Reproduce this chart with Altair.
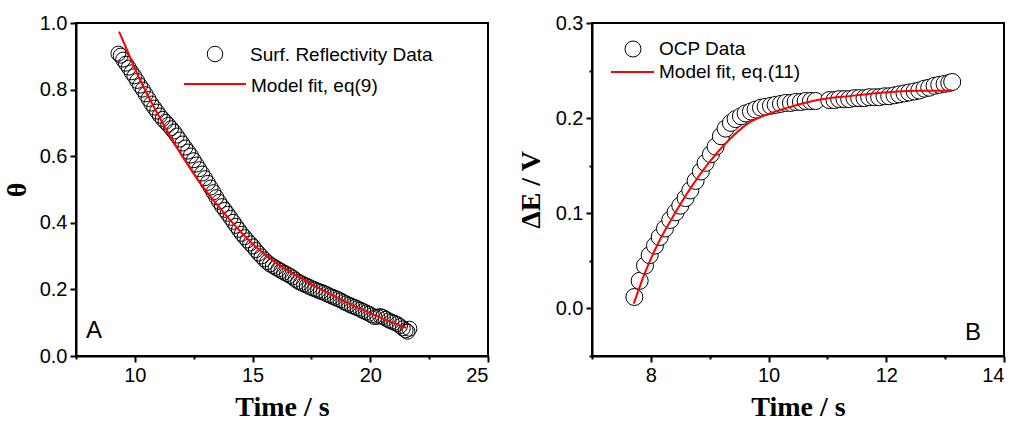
import altair as alt
import pandas as pd

# ---------------- Panel A : surface reflectivity ----------------
refl_t = [9.30, 9.40, 9.50, 9.62, 9.74, 9.86, 9.98, 10.10, 10.22, 10.34, 10.46, 10.58,
          10.70, 10.82, 10.94, 11.06, 11.18, 11.30, 11.42, 11.54, 11.66, 11.78, 11.90,
          12.02, 12.14, 12.26, 12.38, 12.50, 12.62, 12.74, 12.86, 12.98, 13.10, 13.22,
          13.34, 13.46, 13.58, 13.70, 13.82, 13.94, 14.06, 14.18, 14.30, 14.42, 14.54,
          14.66, 14.78, 14.90, 15.02, 15.14, 15.26, 15.38, 15.50, 15.62, 15.74, 15.86,
          15.98, 16.10, 16.22, 16.34, 16.46, 16.58, 16.70, 16.82, 16.94, 17.06, 17.18,
          17.30, 17.42, 17.54, 17.66, 17.78, 17.90, 18.02, 18.14, 18.26, 18.38, 18.50,
          18.62, 18.74, 18.86, 18.98, 19.10, 19.22, 19.34, 19.46, 19.58, 19.70, 19.82,
          19.94, 20.06, 20.18, 20.30, 20.42, 20.54, 20.66, 20.78, 20.90, 21.02, 21.14,
          21.26, 21.38, 21.50, 21.58, 21.66]
refl_theta = [0.908, 0.902, 0.890, 0.878, 0.866, 0.852, 0.840, 0.826, 0.812, 0.800, 0.786, 0.772,
              0.758, 0.746, 0.734, 0.722, 0.712, 0.703, 0.694, 0.684, 0.674, 0.662, 0.650,
              0.638, 0.626, 0.614, 0.602, 0.588, 0.575, 0.561, 0.548, 0.534, 0.520, 0.506,
              0.492, 0.477, 0.463, 0.450, 0.439, 0.427, 0.415, 0.403, 0.391, 0.379, 0.367,
              0.357, 0.347, 0.338, 0.329, 0.318, 0.308, 0.299, 0.290, 0.282, 0.275, 0.270,
              0.265, 0.260, 0.255, 0.250, 0.246, 0.241, 0.236, 0.229, 0.223, 0.219, 0.215,
              0.211, 0.207, 0.203, 0.200, 0.196, 0.193, 0.190, 0.186, 0.182, 0.178, 0.175,
              0.171, 0.167, 0.162, 0.158, 0.154, 0.150, 0.147, 0.143, 0.139, 0.135, 0.131,
              0.127, 0.122, 0.117, 0.118, 0.120, 0.117, 0.112, 0.107, 0.103, 0.100, 0.096,
              0.090, 0.083, 0.077, 0.073, 0.082]

fitA_t = [9.33, 9.54, 10.11, 10.82, 11.46, 12.10, 12.80, 13.52, 14.44, 15.15, 15.85,
          16.55, 17.27, 17.98, 18.69, 19.40, 20.11, 20.82, 21.53]
fitA_theta = [0.974, 0.940, 0.846, 0.746, 0.665, 0.590, 0.517, 0.452, 0.377, 0.327, 0.287,
              0.254, 0.225, 0.197, 0.171, 0.147, 0.125, 0.104, 0.085]

# ---------------- Panel B : OCP ----------------
ocp_t = [7.72, 7.81, 7.90, 7.98, 8.07, 8.15, 8.24, 8.33, 8.42, 8.50, 8.59, 8.67, 8.76,
         8.85, 8.93, 9.02, 9.10, 9.19, 9.27, 9.36, 9.44, 9.53, 9.61, 9.70, 9.78, 9.87,
         9.95, 10.04, 10.12, 10.21, 10.29, 10.38, 10.46, 10.55, 10.63, 10.72, 10.80,
         11.03, 11.12, 11.20, 11.29, 11.37, 11.46, 11.54, 11.63, 11.71, 11.80, 11.88,
         11.97, 12.05, 12.14, 12.22, 12.31, 12.39, 12.48, 12.56, 12.65, 12.73, 12.82,
         12.90, 12.99, 13.07, 13.12]
ocp_dE = [0.012, 0.029, 0.045, 0.056, 0.066, 0.075, 0.084, 0.093, 0.101, 0.108, 0.116,
          0.124, 0.134, 0.144, 0.153, 0.162, 0.170, 0.181, 0.189, 0.195, 0.199, 0.202,
          0.205, 0.207, 0.209, 0.211, 0.212, 0.213, 0.214, 0.215, 0.216, 0.216, 0.217,
          0.217, 0.218, 0.218, 0.218, 0.219, 0.219, 0.220, 0.220, 0.220, 0.221, 0.221,
          0.221, 0.222, 0.222, 0.222, 0.223, 0.223, 0.224, 0.225, 0.226, 0.227, 0.228,
          0.229, 0.231, 0.232, 0.234, 0.235, 0.236, 0.237, 0.238]

fitB_t = [7.71, 7.89, 8.12, 8.40, 8.68, 8.97, 9.31, 9.64, 9.98, 10.38, 10.83, 11.40,
          11.96, 12.53, 13.12]
fitB_dE = [0.005, 0.036, 0.068, 0.099, 0.127, 0.152, 0.176, 0.194, 0.204, 0.212, 0.219,
           0.2234, 0.227, 0.2287, 0.229]

W, H = 412, 333
SANS = "Liberation Sans"
SERIF = "Liberation Serif"
one = pd.DataFrame({"k": [0]})

dfA = pd.DataFrame({"t": refl_t, "v": refl_theta})
dfAf = pd.DataFrame({"t": fitA_t, "v": fitA_theta})
dfB = pd.DataFrame({"t": ocp_t, "v": ocp_dE})
dfBf = pd.DataFrame({"t": fitB_t, "v": fitB_dE})


def axis(values, major_test, fmt, title, title_pad):
    return alt.Axis(
        values=values,
        labelExpr=f"({major_test}) ? format(datum.value, '{fmt}') : ''",
        tickSize={"condition": {"test": major_test, "value": 6}, "value": 3},
        title=title, titlePadding=title_pad, grid=False,
    )


# Panel A
xA = alt.X("t:Q", scale=alt.Scale(domain=[7.5, 25], nice=False, zero=False),
           axis=axis([7.5, 10, 12.5, 15, 17.5, 20, 22.5, 25], "datum.value % 5 == 0", "d",
                     "Time / s", 8))
yA = alt.Y("v:Q", scale=alt.Scale(domain=[0, 1.0], nice=False),
           axis=axis([0, 0.1, 0.2, 0.3, 0.4, 0.5, 0.6, 0.7, 0.8, 0.9, 1.0],
                     "round(datum.value*10) % 2 == 0", ".1f", "θ", 8))

ptsA = alt.Chart(dfA).mark_point(shape="circle", size=225, filled=False, stroke="black",
                                 strokeWidth=1, opacity=1).encode(x=xA, y=yA)
lineA = alt.Chart(dfAf).mark_line(color="red", strokeWidth=2, interpolate="monotone").encode(x="t:Q", y="v:Q")
legA_c = alt.Chart(one).mark_point(shape="circle", size=240, filled=False, stroke="black",
                                   strokeWidth=1, opacity=1).encode(x=alt.value(139), y=alt.value(31))
legA_t1 = alt.Chart(one).mark_text(text="Surf. Reflectivity Data", align="left", baseline="middle",
                                   font=SANS, fontSize=19, color="black").encode(x=alt.value(174), y=alt.value(32))
legA_r = alt.Chart(one).mark_rule(color="red", strokeWidth=2).encode(x=alt.value(108), x2=alt.value(170), y=alt.value(61))
legA_t2 = alt.Chart(one).mark_text(text="Model fit, eq(9)", align="left", baseline="middle",
                                   font=SANS, fontSize=19, color="black").encode(x=alt.value(175), y=alt.value(63))
letA = alt.Chart(one).mark_text(text="A", align="left", baseline="middle", font=SANS,
                                fontSize=24, color="black").encode(x=alt.value(10), y=alt.value(308))
panelA = alt.layer(ptsA, lineA, legA_c, legA_t1, legA_r, legA_t2, letA).properties(width=W, height=H)

# Panel B
xB = alt.X("t:Q", scale=alt.Scale(domain=[7, 14], nice=False, zero=False),
           axis=axis([7, 8, 9, 10, 11, 12, 13, 14], "datum.value % 2 == 0", "d", "Time / s", 8))
yB = alt.Y("v:Q", scale=alt.Scale(domain=[-0.05, 0.3], nice=False, zero=False),
           axis=axis([-0.05, 0, 0.05, 0.1, 0.15, 0.2, 0.25, 0.3],
                     "round(datum.value*100) % 10 == 0", ".1f", "ΔE / V", 10))

ptsB = alt.Chart(dfB).mark_point(shape="circle", size=290, filled=True, fill="white", fillOpacity=1,
                                 stroke="black", strokeWidth=1, opacity=1).encode(x=xB, y=yB)
lineB = alt.Chart(dfBf).mark_line(color="red", strokeWidth=2, interpolate="monotone").encode(x="t:Q", y="v:Q")
legB_c = alt.Chart(one).mark_point(shape="circle", size=256, filled=False, stroke="black",
                                   strokeWidth=1, opacity=1).encode(x=alt.value(41), y=alt.value(26))
legB_t1 = alt.Chart(one).mark_text(text="OCP Data", align="left", baseline="middle",
                                   font=SANS, fontSize=19, color="black").encode(x=alt.value(67), y=alt.value(26))
legB_r = alt.Chart(one).mark_rule(color="red", strokeWidth=2).encode(x=alt.value(19), x2=alt.value(62), y=alt.value(49))
legB_t2 = alt.Chart(one).mark_text(text="Model fit, eq.(11)", align="left", baseline="middle",
                                   font=SANS, fontSize=19, color="black").encode(x=alt.value(67), y=alt.value(49))
letB = alt.Chart(one).mark_text(text="B", align="left", baseline="middle", font=SANS,
                                fontSize=24, color="black").encode(x=alt.value(373), y=alt.value(310))
panelB = alt.layer(ptsB, lineB, legB_c, legB_t1, legB_r, legB_t2, letB).properties(width=W, height=H)

chart = alt.hconcat(panelA, panelB, spacing=26).properties(
    padding={"left": 2, "top": 12, "right": 5, "bottom": 5},
    background="white",
).configure_view(
    stroke="black", strokeWidth=2
).configure_axis(
    domainColor="black", domainWidth=2, tickColor="black", tickWidth=2,
    labelFont=SANS, labelFontSize=20, labelColor="black", labelPadding=3,
    titleFont=SERIF, titleFontSize=28, titleFontWeight="bold", titleColor="black",
)

chart.save("out.html", embed_options={"renderer": "svg", "actions": False})
